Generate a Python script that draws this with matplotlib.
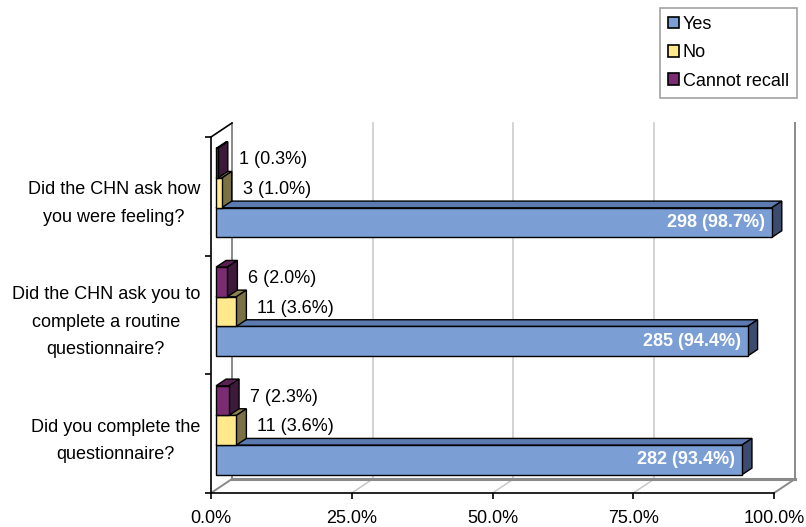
import matplotlib
matplotlib.use("Agg")
import matplotlib.pyplot as plt
from matplotlib.patches import Polygon, Patch

plt.rcParams["font.family"] = ["Liberation Sans", "DejaVu Sans"]
plt.rcParams["font.size"] = 13

questions = [
    "Did the CHN ask how\nyou were feeling?",
    "Did the CHN ask you to\ncomplete a routine\nquestionnaire?",
    "Did you complete the\nquestionnaire?",
]
yes_n = [298, 285, 282]
yes_pct = [98.7, 94.4, 93.4]
no_n = [3, 11, 11]
no_pct = [1.0, 3.6, 3.6]
recall_n = [1, 6, 7]
recall_pct = [0.3, 2.0, 2.3]

series_names = ["Yes", "No", "Cannot recall"]
# front, top, side shades per series
shades = {
    "Yes": ("#7B9FD5", "#5A7AB0", "#3B4C6E"),
    "No": ("#FFE98C", "#8C8450", "#7A7245"),
    "Cannot recall": ("#7A2B72", "#5A2052", "#3E1A3A"),
}

# depth direction of the 3-D box (x in percent, y in category units)
DX, DY = 3.73, 0.118
D0, D1 = 0.24, 0.72
BAR_H = 0.25

fig = plt.figure(figsize=(8.06, 5.27), dpi=100)
ax = fig.add_axes([211 / 806, 34 / 527, 563 / 806, 356 / 527])
ax.set_xlim(0, 100)
ax.set_ylim(0, 3)
ax.set_facecolor("none")

# back wall, floor and gridlines
grid_vals = [0, 25, 50, 75, 100]
for g in grid_vals:
    edge = g in (0, 100)
    col = "#8A8A8A" if edge else "#C8C8C8"
    ax.plot([g + DX, g + DX], [DY, 3 + DY], color=col, lw=1.4 if edge else 1.1,
            zorder=1, clip_on=False)
    ax.plot([g, g + DX], [0, DY], color=col, lw=1.4 if edge else 1.1,
            zorder=1, clip_on=False)
ax.plot([DX, 100 + DX], [DY, DY], color="#8A8A8A", lw=2.2, zorder=1, clip_on=False)
ax.plot([0, DX], [3, 3 + DY], color="black", lw=1.2, zorder=2, clip_on=False)


def draw_box(value, y0, colors, z):
    f, t, s = colors
    ox0, oy0 = D0 * DX, D0 * DY
    ox1, oy1 = D1 * DX, D1 * DY
    front = [(ox0, y0 + oy0), (value + ox0, y0 + oy0),
             (value + ox0, y0 + BAR_H + oy0), (ox0, y0 + BAR_H + oy0)]
    top = [(ox0, y0 + BAR_H + oy0), (value + ox0, y0 + BAR_H + oy0),
           (value + ox1, y0 + BAR_H + oy1), (ox1, y0 + BAR_H + oy1)]
    side = [(value + ox0, y0 + oy0), (value + ox1, y0 + oy1),
            (value + ox1, y0 + BAR_H + oy1), (value + ox0, y0 + BAR_H + oy0)]
    for pts, col in ((top, t), (side, s), (front, f)):
        ax.add_patch(Polygon(pts, closed=True, facecolor=col, edgecolor="black",
                             lw=1.0, joinstyle="miter", zorder=z, clip_on=False))


for i, q in enumerate(questions):
    base = 2 - i + 0.5 - 1.5 * BAR_H
    values = [(yes_pct[i], yes_n[i]), (no_pct[i], no_n[i]), (recall_pct[i], recall_n[i])]
    for k, (name, (pct, n)) in enumerate(zip(series_names, values)):
        y0 = base + k * BAR_H
        draw_box(pct, y0, shades[name], 3 + k)
        label = f"{n} ({pct:.1f}%)"
        if name == "Yes":
            ax.annotate(label, (pct + D0 * DX, y0 + BAR_H / 2 + D0 * DY),
                        xytext=(-5, 0), textcoords="offset points",
                        ha="right", va="center", color="white",
                        fontweight="bold", zorder=10, annotation_clip=False)
        else:
            ax.annotate(label, (pct + D1 * DX, y0 + BAR_H / 2 + (D0 + D1) / 2 * DY),
                        xytext=(8, 0), textcoords="offset points",
                        ha="left", va="center", color="black",
                        zorder=10, annotation_clip=False)

# axes
for side in ("top", "right"):
    ax.spines[side].set_visible(False)
for side in ("left", "bottom"):
    ax.spines[side].set_linewidth(1.2)
    ax.spines[side].set_zorder(8)

ax.set_xticks(grid_vals, [f"{g:.1f}%" for g in grid_vals])
ax.tick_params(axis="x", direction="out", length=4.5, width=1.2, pad=7.5)
ax.set_yticks([0, 1, 2, 3], ["", "", "", ""])
ax.set_yticks([2.5, 1.5, 0.5], questions, minor=True)
ax.tick_params(axis="y", which="major", direction="out", length=4.5, width=1.2)
ax.tick_params(axis="y", which="minor", length=0, pad=8)
for lbl in ax.get_yticklabels(minor=True):
    lbl.set_multialignment("center")
    lbl.set_linespacing(1.8)

handles = [Patch(facecolor=shades[n][0], edgecolor="black", lw=1.2) for n in series_names]
leg = fig.legend(handles, series_names, loc="upper right",
                 bbox_to_anchor=(797 / 806, 1 - 8 / 527),
                 frameon=True, fancybox=False, handlelength=0.6, handleheight=0.6,
                 handletextpad=0.2, labelspacing=0.62, borderpad=0.45,
                 borderaxespad=0)
leg.get_frame().set_edgecolor("#8A8A8A")
leg.get_frame().set_linewidth(1.2)

fig.savefig("out.png", dpi=100, facecolor="white")
